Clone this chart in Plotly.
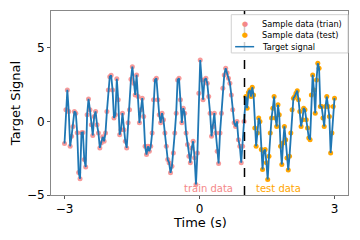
import numpy as np
import plotly.graph_objects as go

train_values = [
    -1.5, 0.79, 2.14, 0.68, -1.69, -1.01, -0.34, 0.68, 0.56, -0.77,
    -3.47, -3.9, -0.77, -0.75, -2.59, -3.1, 0.45, 1.53, 0.79, -0.22,
    -0.95, 0.34, 0.68, -0.22, -0.78, -1.8, -1.46, -1.05, -1.35, -0.78,
    0.68, 2.14, 3.04, 3.13, 2.14, 0.23, 0.45, 2.9, 1.47, -0.9,
    -0.56, 0.56, -0.56, -1.35, -1.8, -0.1, 0.79, 2.86, 3.72, 2.6,
    1.8, 3.16, 1.69, -0.1, 0.79, 1.58, 0.34, -1.69, -2.25, -1.69,
    -2.03, -1.69, -0.78, 1.47, 2.82, 2.93, 1.47, 0.45, -0.1, 0.56,
    0.11, -0.78, -1.69, -2.59, -2.81, -3.49, -3.04, -2.14, -0.78, 0.56,
    2.82, 2.93, 1.47, -0.1, 0.9, 0.56, -0.78, -1.57, -2.36, -2.81,
    -1.8, -1.35, -2.47, -4.28, -2.14, 1.92, 4.17, 2.82, 1.47, 2.82,
    2.93, 2.6, 1.69, 0.56, -1.01, -0.34, 0.56, -0.78, -2.03, -2.86,
    -0.78, 0.56, 2.26, 3.16, 3.61, 3.31, 2.93, 2.6, 1.8, 0.79,
    -0.1, -0.34, 0.0, -1.24, -1.69, -2.81, -1.69, 0.0,
]
test_values = [
    1.69, 0.9, 1.96, 2.14, 1.69, 2.32, 1.8, -0.45, -1.69, -0.78,
    0.23, 0.0, -1.91, -3.26, -2.03, -1.91, -2.81, -3.94, -2.36, -0.78,
    0.23, 0.9, 1.69, 0.23, -0.34, 1.13, 0.45, -1.69, -2.93, -1.47,
    -0.34, -1.24, -2.48, -3.31, -2.36, -0.78, 0.79, 1.58, 1.69, 1.92,
    2.09, 1.47, 0.68, -0.34, 0.11, 0.9, 0.79, 0.11, -0.45, -1.12,
    -1.24, 1.8, 3.16, 2.14, 0.56, 2.82, 3.95, 3.61, 1.01, 1.01,
    0.23, -0.34, 1.01, 1.69, 1.01, 0.34, -2.14, -0.78, 1.01, 1.58,
]
train_range = [-3.0, 0.99]
test_range = [1.03, 3.0]
split_time = 1.0
x_ticks = [-3, 0, 3]
y_ticks = [-5, 0, 5]
legend_labels = ["Sample data (trian)", "Sample data (test)", "Target signal"]

TRAIN_C = "#f48888"
TEST_C = "#ffa500"
LINE_C = "#1f77b4"

t_train = np.linspace(train_range[0], train_range[1], len(train_values))
t_test = np.linspace(test_range[0], test_range[1], len(test_values))
t_all = np.concatenate([t_train, t_test])
y_all = np.array(train_values + test_values)

font = "DejaVu Sans"
fig = go.Figure()
fig.add_trace(go.Scatter(
    x=t_train, y=train_values, mode="markers", name=legend_labels[0],
    marker=dict(color=TRAIN_C, size=5, opacity=0.85),
))
fig.add_trace(go.Scatter(
    x=t_test, y=test_values, mode="markers", name=legend_labels[1],
    marker=dict(color=TEST_C, size=5),
))
fig.add_trace(go.Scatter(
    x=t_all, y=y_all, mode="lines", name=legend_labels[2],
    line=dict(color=LINE_C, width=1.8),
))
fig.add_shape(type="line", x0=split_time, x1=split_time, y0=0, y1=1,
              xref="x", yref="paper", line=dict(color="black", width=1.5, dash="dash"))
fig.add_annotation(x=0.79, y=-4.55, text="train data", showarrow=False,
                   xanchor="right", yanchor="middle", font=dict(family=font, size=10, color=TRAIN_C))
fig.add_annotation(x=1.21, y=-4.55, text="test data", showarrow=False,
                   xanchor="left", yanchor="middle", font=dict(family=font, size=10, color=TEST_C))

# hand-drawn legend (compact, matplotlib-like)
fig.add_shape(type="rect", xref="paper", yref="paper", x0=0.607, x1=1.0, y0=0.772, y1=0.98,
              line=dict(color="#d0d0d0", width=1), fillcolor="rgba(255,255,255,0.8)")
rows_y = [0.93, 0.872, 0.806]
fig.add_annotation(xref="paper", yref="paper", x=0.654, y=rows_y[0], text="\u25cf", showarrow=False,
                   font=dict(family=font, size=7, color=TRAIN_C), xanchor="center", yanchor="middle")
fig.add_annotation(xref="paper", yref="paper", x=0.654, y=rows_y[1], text="\u25cf", showarrow=False,
                   font=dict(family=font, size=7, color=TEST_C), xanchor="center", yanchor="middle")
fig.add_shape(type="line", xref="paper", yref="paper", x0=0.620, x1=0.684, y0=rows_y[2], y1=rows_y[2],
              line=dict(color=LINE_C, width=1.5))
for lab, yy in zip(legend_labels, rows_y):
    fig.add_annotation(xref="paper", yref="paper", x=0.703, y=yy, text=lab, showarrow=False,
                       font=dict(family=font, size=8.2, color="black"), xanchor="left", yanchor="middle")

axis_common = dict(
    showgrid=False, zeroline=False, showline=True, mirror=True, automargin=False,
    linecolor="#888888", linewidth=1, ticks="outside", ticklen=3,
    tickcolor="#555555", tickfont=dict(family=font, size=12, color="black"),
)
fig.update_xaxes(range=[-3.3, 3.3], tickvals=x_ticks, ticktext=["\u22123", "0", "3"], **axis_common)
fig.update_yaxes(range=[-5, 7.5], tickvals=y_ticks, ticktext=["\u22125", "0", "5"],
                 title=dict(text="Target Signal", font=dict(family=font, size=13, color="black"), standoff=4),
                 **axis_common)
fig.add_annotation(xref="paper", yref="paper", x=0.5, y=-0.15, text="Time (s)", showarrow=False,
                   xanchor="center", yanchor="middle", font=dict(family=font, size=13, color="black"))
# page body adds an 8px margin, so the figure is 8px smaller in each direction
fig.update_layout(
    width=352, height=232,
    margin=dict(l=43, r=12, t=3, b=45, autoexpand=False),
    plot_bgcolor="white", paper_bgcolor="white",
    showlegend=False,
)
fig.write_html("out.html")
